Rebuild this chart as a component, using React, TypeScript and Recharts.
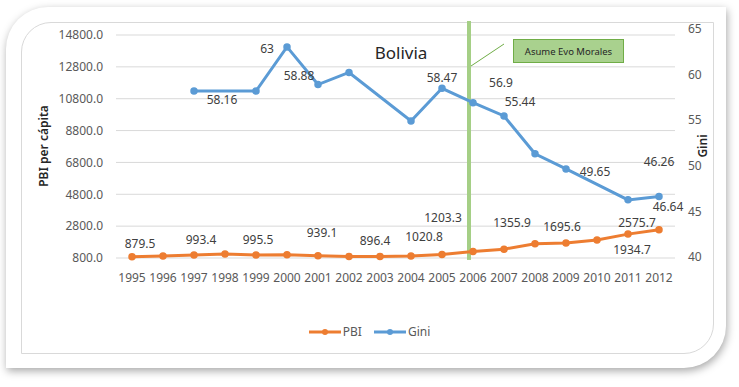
import { LineChart, Line, XAxis, YAxis, CartesianGrid, Legend, LabelList, ReferenceLine } from 'recharts';

const YEARS = ['1995', '1996', '1997', '1998', '1999', '2000', '2001', '2002', '2003', '2004', '2005', '2006', '2007', '2008', '2009', '2010', '2011', '2012'];
const PBI = [879.5, 930, 993.4, 1055, 995.5, 1000, 939.1, 900, 896.4, 920, 1020.8, 1203.3, 1355.9, 1695.6, 1740, 1934.7, 2300, 2575.7];
const GINI = [null, null, 58.16, null, 58.16, 63, 58.88, 60.2, null, 54.9, 58.47, 56.9, 55.44, 51.3, 49.65, null, 46.26, 46.64];
const PBI_TICKS = [800, 2800, 4800, 6800, 8800, 10800, 12800, 14800];
const GINI_TICKS = [40, 45, 50, 55, 60, 65];
const SERIES_ORDER = ['PBI', 'Gini'];

const ORANGE = '#ed7d31';
const BLUE = '#5b9bd5';

// hand-placed data labels, as in the original sheet (dx, dy from the point)
const PBI_LABEL_SHIFT: Record<string, [number, number]> = {
  '1995': [8, -13], '1997': [7, -15], '1999': [2, -15], '2001': [4, -23], '2003': [-5, -16],
  '2005': [-18, -18], '2006': [-30, -34], '2007': [8, -27], '2008': [27, -17], '2010': [35, 10], '2012': [-22, -7],
};
const GINI_LABEL_SHIFT: Record<string, [number, number]> = {
  '1997': [28, 8], '2000': [-20, 2], '2001': [-19, -9], '2005': [0, -11], '2006': [28, -20],
  '2007': [16, -14], '2009': [29, 3], '2011': [31, -38], '2012': [9, 10],
};

const data = YEARS.map((year, i) => ({ year, PBI: PBI[i], Gini: GINI[i] }));

const makeLabel = (shift: Record<string, [number, number]>) => (props: any) => {
  const { x, y, value, index } = props;
  const s = shift[YEARS[index]];
  if (!s || value == null) return null;
  return (
    <text x={x + s[0]} y={y + s[1]} textAnchor="middle" dominantBaseline="central" fontSize={12} fill="#404040">
      {value}
    </text>
  );
};

const axisTitle = (text: string, dx: number) => (props: any) => {
  const { viewBox } = props;
  const cx = viewBox.x + dx;
  const cy = 146;
  return (
    <text x={cx} y={cy} transform={`rotate(-90 ${cx} ${cy})`} textAnchor="middle" dominantBaseline="central" fontSize={12} fontWeight={600} fill="#262626">
      {text}
    </text>
  );
};

const renderLegend = (props: any) => {
  const items = [...(props.payload || [])].sort((a: any, b: any) => SERIES_ORDER.indexOf(a.value) - SERIES_ORDER.indexOf(b.value));
  return (
    <div style={{ display: 'flex', justifyContent: 'center', gap: 12, fontSize: 12, color: '#595959' }}>
      {items.map((entry: any) => (
        <span key={entry.value} style={{ display: 'flex', alignItems: 'center' }}>
          <svg width={32} height={10}>
            <line x1={0} y1={5} x2={32} y2={5} stroke={entry.color} strokeWidth={3} />
            <circle cx={16} cy={5} r={3} fill={entry.color} />
          </svg>
          <span style={{ marginLeft: 2 }}>{entry.value}</span>
        </span>
      ))}
    </div>
  );
};

export default function App() {
  return (
    <div style={{ position: 'absolute', left: 0, top: 0, width: 739, height: 387, background: '#fff', fontFamily: '"Noto Sans", sans-serif', overflow: 'hidden' }}>
      {/* card frame */}
      <div style={{ position: 'absolute', left: 6, top: 7, width: 720, height: 361, background: '#fff', borderRadius: '42px 0 42px 0', boxShadow: '1px 3px 9px rgba(0,0,0,0.35)' }} />
      <div style={{ position: 'absolute', left: 21, top: 22, width: 691, height: 330, border: '1px solid #d9d9d9', borderRadius: '30px 0 30px 0' }} />

      <div style={{ position: 'absolute', left: 0, top: 0 }}>
        <LineChart width={739} height={387} data={data} margin={{ top: 35, right: 0, left: 0, bottom: 99 }}>
          <CartesianGrid yAxisId="left" vertical={false} stroke="#d9d9d9" />
          <XAxis dataKey="year" height={30} interval={0} padding={{ left: 16, right: 16 }} axisLine={false} tickLine={false} tickMargin={9} tick={{ fontSize: 12, fill: '#595959' }} />
          <YAxis
            yAxisId="left"
            width={116}
            domain={[800, 14800]}
            ticks={PBI_TICKS}
            interval={0}
            axisLine={false}
            tickLine={false}
            tickMargin={7}
            tick={{ fontSize: 12, fill: '#595959' }}
            tickFormatter={(v: number) => v.toFixed(1)}
            label={{ content: axisTitle('PBI per cápita', 43) }}
          />
          <YAxis
            yAxisId="right"
            orientation="right"
            width={64}
            domain={[39.9, 64.3]}
            allowDataOverflow
            ticks={GINI_TICKS}
            interval={0}
            axisLine={false}
            tickLine={false}
            tickMargin={7}
            tick={{ fontSize: 12, fill: '#595959' }}
            label={{ content: axisTitle('Gini', 27) }}
          />
          <ReferenceLine
            yAxisId="left"
            segment={[{ x: '2006', y: 680 }, { x: '2006', y: 15680 }]}
            ifOverflow="visible"
            stroke="#a5cf86"
            strokeWidth={4}
            shape={(p: any) => <line x1={p.x1 - 4} y1={p.y1} x2={p.x2 - 4} y2={p.y2} stroke="#a5cf86" strokeWidth={4} />}
          />
          <Legend verticalAlign="middle" align="center" layout="horizontal" content={renderLegend} wrapperStyle={{ top: 323, left: 0, width: 739 }} />
          <Line yAxisId="left" dataKey="PBI" name="PBI" stroke={ORANGE} strokeWidth={3} dot={{ r: 3, fill: ORANGE, stroke: ORANGE, strokeWidth: 1.5 }} isAnimationActive={false}>
            <LabelList dataKey="PBI" content={makeLabel(PBI_LABEL_SHIFT)} />
          </Line>
          <Line yAxisId="right" dataKey="Gini" name="Gini" stroke={BLUE} strokeWidth={3} connectNulls dot={{ r: 3, fill: BLUE, stroke: BLUE, strokeWidth: 1.5 }} isAnimationActive={false}>
            <LabelList dataKey="Gini" content={makeLabel(GINI_LABEL_SHIFT)} />
          </Line>
        </LineChart>
      </div>

      {/* title and annotation */}
      <svg width={739} height={387} style={{ position: 'absolute', left: 0, top: 0, pointerEvents: 'none' }}>
        <text x={401} y={52} textAnchor="middle" dominantBaseline="central" fontSize={17} fill="#262626">Bolivia</text>
        <line x1={471} y1={66} x2={504} y2={44} stroke="#70ad47" strokeWidth={1} />
        <rect x={513.5} y={39.5} width={110} height={23} fill="#a9d18e" stroke="#70ad47" strokeWidth={1} />
        <text x={568.5} y={51} textAnchor="middle" dominantBaseline="central" fontSize={9.5} fill="#262626">Asume Evo Morales</text>
      </svg>
    </div>
  );
}
